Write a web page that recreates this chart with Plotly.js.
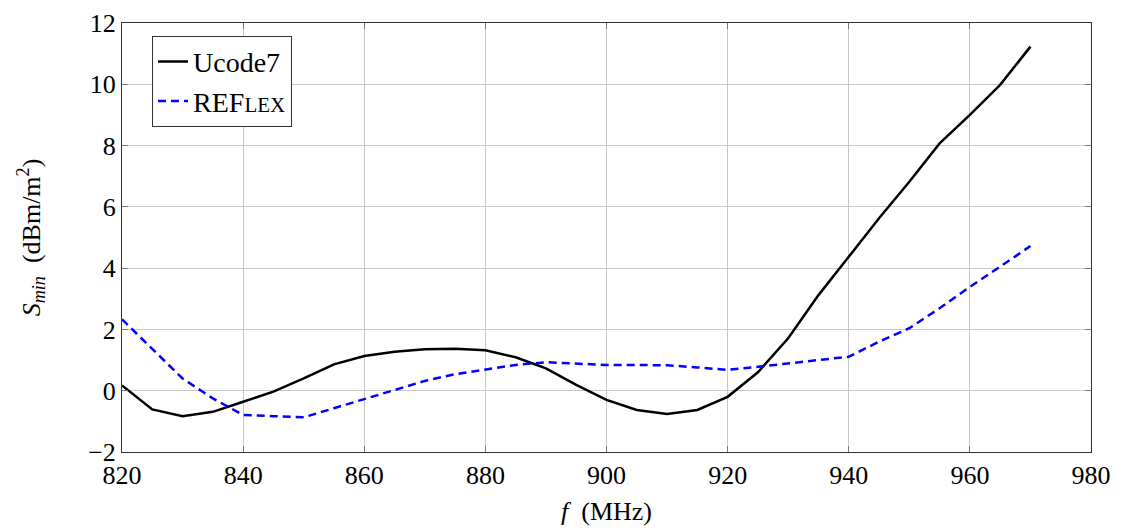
<!DOCTYPE html>
<html>
<head>
<meta charset="utf-8">
<script src="https://cdn.plot.ly/plotly-3.0.1.min.js"></script>
</head>
<body style="margin:0;background:#fff">
<div style="position:absolute;left:0;top:0;font-family:'Liberation Serif';font-size:26px;line-height:1px;color:#fff">&nbsp;<i>&nbsp;</i></div>
<div id="chart" style="width:1121px;height:531px"></div>
<script>
// Minimum power density vs. frequency for two tag chips
const freqUcode = [820, 825, 830, 835, 840, 845, 850, 855, 860, 865, 870, 875, 880, 885, 890, 895, 900, 905, 910, 915, 920, 925, 930, 935, 940, 945, 950, 955, 960, 965, 970];
const sminUcode = [0.17, -0.61, -0.83, -0.69, -0.36, -0.03, 0.40, 0.86, 1.13, 1.27, 1.35, 1.37, 1.32, 1.09, 0.73, 0.19, -0.30, -0.63, -0.76, -0.63, -0.20, 0.60, 1.71, 3.12, 4.37, 5.63, 6.82, 8.07, 9.00, 9.98, 11.23];

const freqReflex = [820, 825, 830, 835, 840, 845, 850, 855, 860, 865, 870, 875, 880, 885, 890, 895, 900, 905, 910, 915, 920, 925, 930, 935, 940, 945, 950, 955, 960, 965, 970];
const sminReflex = [2.33, 1.36, 0.40, -0.25, -0.79, -0.83, -0.87, -0.57, -0.28, 0.02, 0.32, 0.54, 0.70, 0.84, 0.93, 0.89, 0.84, 0.84, 0.83, 0.76, 0.68, 0.78, 0.89, 1.00, 1.11, 1.60, 2.04, 2.69, 3.39, 4.05, 4.72];

const xTicks = [820, 840, 860, 880, 900, 920, 940, 960, 980];
const yTicks = [-2, 0, 2, 4, 6, 8, 10, 12];
const yTickText = ['\u22122', '0', '2', '4', '6', '8', '10', '12'];

const textFamily = 'Liberation Serif';

const traces = [
  {
    x: freqUcode, y: sminUcode,
    mode: 'lines', name: 'Ucode7',
    line: { color: '#000000', width: 2.5 }
  },
  {
    x: freqReflex, y: sminReflex,
    mode: 'lines', name: 'REF<span style="font-size:21px">LEX</span>',
    line: { color: '#0000ff', width: 2.5, dash: '8px,5px' }
  }
];

function axisStyle() {
  return {
    showgrid: true,
    gridcolor: '#c8c8c8',
    gridwidth: 1,
    showline: true,
    linecolor: '#333333',
    linewidth: 1,
    mirror: 'allticks',
    ticks: 'inside',
    ticklen: 6,
    tickcolor: '#777777',
    zeroline: false,
    tickfont: { family: textFamily, size: 26, color: '#000000' }
  };
}

const layout = {
  width: 1121, height: 531,
  margin: { l: 122, r: 30, t: 23, b: 79 },
  paper_bgcolor: '#ffffff',
  plot_bgcolor: '#ffffff',
  xaxis: Object.assign(axisStyle(), {
    range: [820, 980],
    tickvals: xTicks,
    ticktext: xTicks.map(String),
    title: { text: '<i>f</i>  (MHz)', font: { family: textFamily, size: 26, color: '#000000' }, standoff: 12 }
  }),
  yaxis: Object.assign(axisStyle(), {
    range: [-2, 12],
    tickvals: yTicks,
    ticktext: yTickText,
    title: { text: '<i>S</i><sub><i>min</i></sub>  (dBm/m<sup>2</sup>)', font: { family: textFamily, size: 26, color: '#000000' }, standoff: 40 }
  }),
  showlegend: true,
  legend: {
    x: 0.031, y: 0.97, xanchor: 'left', yanchor: 'top',
    bgcolor: '#ffffff',
    bordercolor: '#333333', borderwidth: 1,
    font: { family: textFamily, size: 28, color: '#000000' },
    tracegroupgap: 0
  }
};

const gd = document.getElementById('chart');
Plotly.newPlot(gd, traces, layout, { displayModeBar: false });
// redraw once the serif face is in use so text is measured with it
setTimeout(function () { Plotly.react(gd, traces, layout, { displayModeBar: false }); }, 150);
</script>
</body>
</html>
